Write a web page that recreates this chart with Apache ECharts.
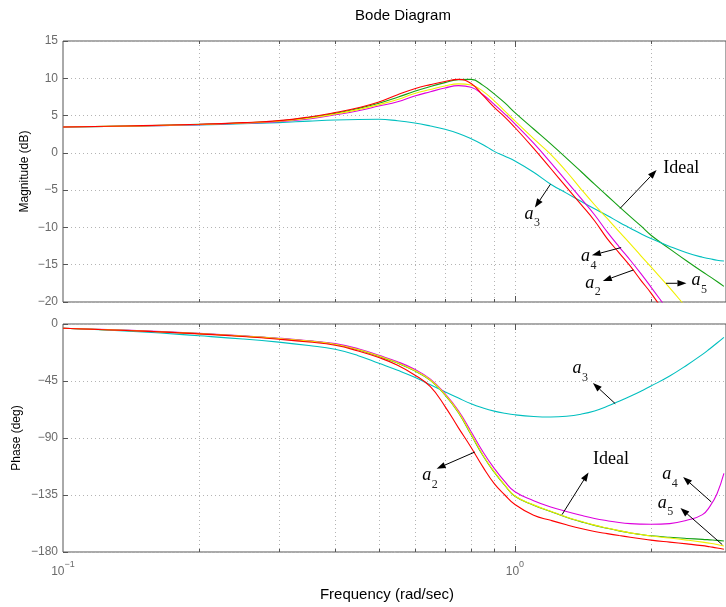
<!DOCTYPE html>
<html>
<head>
<meta charset="utf-8">
<script src="https://cdn.jsdelivr.net/npm/echarts@6/dist/echarts.min.js"></script>
<style>
  html, body { margin: 0; padding: 0; background: #fff; }
  #chart { width: 726px; height: 607px; }
</style>
</head>
<body>
<div id="chart"></div>
<script>
// Frequency samples (rad/sec)
const freq = [0.1, 0.15, 0.2, 0.25, 0.3, 0.35, 0.4, 0.45, 0.5, 0.55, 0.6, 0.65, 0.7, 0.75, 0.8, 0.85, 0.9, 0.95,
              1.0, 1.1, 1.2, 1.3, 1.4, 1.5, 1.6, 1.7, 1.8, 1.9, 2.0,
              2.2, 2.4, 2.6, 2.7, 2.8, 2.9];

// Magnitude (dB)
const magIdeal = [3.47, 3.63, 3.82, 4.02, 4.28, 4.72, 5.3, 5.95, 6.65, 7.45, 8.26, 8.9, 9.42, 9.82, 9.85, 9.05, 7.9, 6.7,
                  5.4, 3.2, 1.2, -0.7, -2.5, -4.2, -5.75, -7.2, -8.55, -9.8, -11.05,
                  -12.87, -14.5, -15.95, -16.6, -17.25, -17.9];
const magA2 = [3.47, 3.65, 3.83, 4.05, 4.32, 4.8, 5.4, 6.05, 6.82, 7.8, 8.6, 9.15, 9.58, 9.86, 9.3, 7.7, 6.1, 4.8,
               3.4, 0.6, -2.1, -4.6, -6.9, -9.1, -11.5, -13.4, -15.2, -17.1, -18.8,
               -22.4, -25.8, -29, -30.5, -32, -33.5];
const magA3 = [3.47, 3.6, 3.75, 3.9, 4.06, 4.25, 4.4, 4.48, 4.5, 4.3, 4.0, 3.6, 3.16, 2.6, 1.9, 1.1, 0.2, -0.45,
               -1.1, -2.6, -4.2, -5.4, -6.5, -7.5, -8.4, -9.3, -10.1, -10.85, -11.5,
               -12.55, -13.4, -14.0, -14.2, -14.4, -14.5];
const magA4 = [3.47, 3.6, 3.78, 3.97, 4.18, 4.55, 5.1, 5.65, 6.28, 6.85, 7.63, 8.2, 8.7, 9.02, 8.8, 7.8, 6.5, 5.2,
               3.9, 1.3, -1.3, -3.8, -6.1, -8.3, -10.6, -12.6, -14.4, -16.2, -18.0,
               -21.4, -24.5, -27.5, -29, -30.5, -32];
const magA5 = [3.47, 3.62, 3.8, 4.0, 4.24, 4.65, 5.2, 5.8, 6.47, 7.15, 7.95, 8.5, 8.97, 9.25, 9.1, 8.25, 6.96, 5.6,
               4.28, 1.9, -0.2, -2.5, -4.85, -6.96, -8.8, -10.56, -12.2, -13.8, -15.3,
               -18.1, -20.8, -23.2, -24.4, -25.5, -26.6];

// Phase (deg)
const phIdeal = [-3.4, -5.5, -7.6, -9.6, -11.5, -13.5, -16, -20.3, -25.5, -30.8, -37, -44.5, -56, -70, -87.5, -104, -117, -127.5,
                 -136, -143, -148, -152.5, -156, -159, -161.3, -163.3, -165, -166.2, -167.2,
                 -168.4, -169.3, -170, -170.4, -170.8, -171.3];
const phA2 = [-3.4, -5.6, -7.8, -9.9, -12, -14.2, -16.8, -21.3, -26.5, -32.5, -40.2, -49.5, -65, -82, -97.5, -113, -126, -135,
              -142.5, -151, -155, -158.5, -161.5, -163.8, -165.5, -167, -168.3, -169.5, -170.6,
              -172.2, -173.6, -175, -175.9, -176.8, -177.8];
const phA3 = [-3.4, -6.3, -9.3, -11.8, -14.3, -17, -20, -25, -31, -36.5, -42, -48, -53.5, -58.5, -63, -66.3, -68.8, -70.5,
              -71.7, -73, -73.4, -72.8, -71.2, -68.7, -65, -61, -57, -53, -49,
              -41, -32.5, -24, -19.5, -15, -10.5];
const phA4 = [-3.4, -5.3, -7.4, -9.3, -11.2, -13.2, -15.5, -19.5, -24.7, -29.8, -35.8, -43.5, -55, -68.5, -85, -101, -114, -124.5,
              -132.5, -139.5, -144.5, -148, -151, -153.5, -155.3, -156.7, -157.6, -158, -158.1,
              -157.6, -155, -150.5, -144, -134, -118];
const phA5 = [-3.4, -5.5, -7.6, -9.6, -11.5, -13.5, -16, -20.2, -25.3, -30.6, -36.7, -44.2, -55.6, -69.6, -87, -103.6, -116.6, -127.2,
              -135.8, -142.8, -147.8, -152.3, -155.8, -158.8, -161.1, -163.1, -164.9, -166.2, -167.4,
              -169, -170.6, -172.2, -173.1, -174.1, -175.2];

// Axis ranges and ticks
const freqMin = 0.1, freqMax = 2.931;
const magRange = [-20, 15], magStep = 5;
const phRange = [-180, 0], phStep = 45;
const gridFreqs = [0.2, 0.3, 0.4, 0.5, 0.6, 0.7, 0.8, 0.9, 1, 2];

// Annotation arrows [fromFreq, fromValue, toFreq, toValue] and labels [freq, value]
const magArrows = [[1.709, -7.44, 2.058, -2.3], [1.198, -4.22, 1.107, -7.34], [1.718, -12.7, 1.48, -13.74],
                   [1.828, -15.71, 1.565, -17.18], [2.159, -17.49, 2.396, -17.49]];
const magLabelPos = [[2.129, -2.07], [1.05, -8.5], [1.40, -14.2], [1.431, -17.72], [2.458, -17.4]];
const magLabelText = ['Ideal', 'a3', 'a4', 'a2', 'a5'];
const phArrows = [[1.667, -62.9, 1.488, -46.6], [1.271, -150.5, 1.455, -117.2], [2.72, -140.5, 2.356, -120.8],
                  [2.876, -174.2, 2.324, -145.3], [0.815, -101.1, 0.671, -114.2]];
const phLabelPos = [[1.34, -36.9], [1.488, -107.1], [2.118, -120.5], [2.069, -142.9], [0.624, -121.1]];
const phLabelText = ['a3', 'Ideal', 'a4', 'a5', 'a2'];

const colors = { ideal: '#14a014', a2: '#ff0000', a3: '#00bfbf', a4: '#dd00dd', a5: '#f0f000' };
const SANS = '"Liberation Sans", Arial, Helvetica, sans-serif';
const SERIF = '"Liberation Serif", "Times New Roman", serif';

const pairs = ys => freq.map((f, i) => [f, ys[i]]);
const minus = v => String(v).replace('-', '\u2212');

function curve(name, ys, color, idx, z) {
  return {
    name, type: 'line', xAxisIndex: idx, yAxisIndex: idx, data: pairs(ys),
    showSymbol: false, smooth: 0.45, silent: true, z,
    lineStyle: { color, width: 1.1 }, clip: true
  };
}

function gridLines(idx, range) {
  return {
    type: 'custom', xAxisIndex: idx, yAxisIndex: idx, silent: true, z: 1,
    data: gridFreqs.map(f => [f, range[0]]), encode: { x: 0, y: 1 },
    renderItem(params, api) {
      const f = api.value(0);
      const top = api.coord([f, range[1]]);
      const bot = api.coord([f, range[0]]);
      const x = Math.round(top[0]) + 0.5;
      const e = Math.log10(f);
      const len = Math.abs(e - Math.round(e)) < 1e-9 ? 6 : 3;
      return { type: 'group', children: [
        { type: 'line', shape: { x1: x, y1: top[1], x2: x, y2: bot[1] }, style: { stroke: '#b4b4b4', lineWidth: 1, lineDash: [1, 3] } },
        { type: 'line', shape: { x1: x, y1: top[1], x2: x, y2: top[1] + len }, style: { stroke: '#555', lineWidth: 1 } },
        { type: 'line', shape: { x1: x, y1: bot[1], x2: x, y2: bot[1] - len }, style: { stroke: '#555', lineWidth: 1 } }
      ] };
    }
  };
}

function arrows(idx, list) {
  return {
    type: 'custom', xAxisIndex: idx, yAxisIndex: idx, silent: true, z: 20,
    data: list, encode: { x: [0, 2], y: [1, 3] },
    renderItem(params, api) {
      const p0 = api.coord([api.value(0), api.value(1)]);
      const p1 = api.coord([api.value(2), api.value(3)]);
      const dx = p1[0] - p0[0], dy = p1[1] - p0[1];
      const L = Math.hypot(dx, dy), ux = dx / L, uy = dy / L;
      const hl = 9, hw = 3.2;
      const bx = p1[0] - ux * hl, by = p1[1] - uy * hl;
      return { type: 'group', children: [
        { type: 'line', shape: { x1: p0[0], y1: p0[1], x2: bx, y2: by }, style: { stroke: '#000', lineWidth: 1 } },
        { type: 'polygon', shape: { points: [[p1[0], p1[1]], [bx - uy * hw, by + ux * hw], [bx + uy * hw, by - ux * hw]] },
          style: { fill: '#000' } }
      ] };
    }
  };
}

function labels(idx, pos, texts) {
  return {
    type: 'custom', xAxisIndex: idx, yAxisIndex: idx, silent: true, z: 21,
    data: pos.map((p, i) => [p[0], p[1], i]), encode: { x: 0, y: 1 },
    renderItem(params, api) {
      const p = api.coord([api.value(0), api.value(1)]);
      const t = texts[api.value(2)];
      if (t === 'Ideal') {
        return { type: 'text', x: p[0], y: p[1], style: { text: t, fontFamily: SERIF, fontSize: 18, fill: '#000', align: 'left', verticalAlign: 'middle' } };
      }
      return { type: 'group', children: [
        { type: 'text', x: p[0], y: p[1] - 2, style: { text: t.charAt(0), fontFamily: SERIF, fontStyle: 'italic', fontSize: 18, fill: '#000', align: 'left', verticalAlign: 'middle' } },
        { type: 'text', x: p[0] + 9.5, y: p[1] + 7, style: { text: t.slice(1), fontFamily: SERIF, fontSize: 12, fill: '#222', align: 'left', verticalAlign: 'middle' } }
      ] };
    }
  };
}

function yAxis(idx, range, step, name, gap) {
  return {
    gridIndex: idx, type: 'value', min: range[0], max: range[1], interval: step,
    axisLine: { show: false },
    axisTick: { show: true, inside: true, length: 5, lineStyle: { color: '#555' } },
    axisLabel: { color: '#6b6b6b', fontSize: 12, fontFamily: SANS, margin: 5, formatter: minus },
    splitLine: { show: true, lineStyle: { color: '#b4b4b4', type: [1, 3], width: 1 } },
    name, nameLocation: 'middle', nameGap: gap, nameMoveOverlap: false,
    nameTextStyle: { color: '#000', fontSize: 12, fontFamily: SANS }
  };
}

function xAxis(idx, withLabels) {
  return {
    gridIndex: idx, type: 'log', logBase: 10, min: freqMin, max: freqMax,
    axisLine: { show: false }, axisTick: { show: false }, splitLine: { show: false },
    axisLabel: {
      show: withLabels, margin: 8, showMaxLabel: false,
      formatter(v) {
        const e = Math.log10(v), r = Math.round(e);
        if (Math.abs(e - r) > 1e-6) return '';
        return '{b|10}{s|' + minus(r) + '}';
      },
      rich: {
        b: { fontSize: 12, fontFamily: SANS, color: '#6b6b6b', padding: [6, 0, 0, 0], verticalAlign: 'bottom' },
        s: { fontSize: 9, fontFamily: SANS, color: '#6b6b6b', verticalAlign: 'top' }
      }
    }
  };
}

const chart = echarts.init(document.getElementById('chart'), null, { renderer: 'canvas' });
chart.setOption({
  animation: false,
  backgroundColor: '#fff',
  grid: [
    { left: 63, top: 41, width: 666, height: 261, show: true, borderColor: '#555', borderWidth: 1, containLabel: false },
    { left: 63, top: 324, width: 666, height: 228, show: true, borderColor: '#555', borderWidth: 1, containLabel: false }
  ],
  xAxis: [xAxis(0, false), xAxis(1, true)],
  yAxis: [yAxis(0, magRange, magStep, 'Magnitude (dB)', 32), yAxis(1, phRange, phStep, 'Phase (deg)', 40)],
  graphic: [
    { type: 'text', x: 403, y: 16, style: { text: 'Bode Diagram', fontFamily: SANS, fontSize: 15, fill: '#000', align: 'center', verticalAlign: 'middle' } },
    { type: 'text', x: 387, y: 594.5, style: { text: 'Frequency (rad/sec)', fontFamily: SANS, fontSize: 15, fill: '#000', align: 'center', verticalAlign: 'middle' } }
  ],
  series: [
    gridLines(0, magRange),
    gridLines(1, phRange),
    curve('Ideal', magIdeal, colors.ideal, 0, 5),
    curve('a3', magA3, colors.a3, 0, 6),
    curve('a4', magA4, colors.a4, 0, 7),
    curve('a5', magA5, colors.a5, 0, 8),
    curve('a2', magA2, colors.a2, 0, 9),
    curve('Ideal', phIdeal, colors.ideal, 1, 5),
    curve('a3', phA3, colors.a3, 1, 6),
    curve('a4', phA4, colors.a4, 1, 7),
    curve('a5', phA5, colors.a5, 1, 8),
    curve('a2', phA2, colors.a2, 1, 9),
    arrows(0, magArrows),
    labels(0, magLabelPos, magLabelText),
    arrows(1, phArrows),
    labels(1, phLabelPos, phLabelText)
  ]
});
</script>
</body>
</html>
